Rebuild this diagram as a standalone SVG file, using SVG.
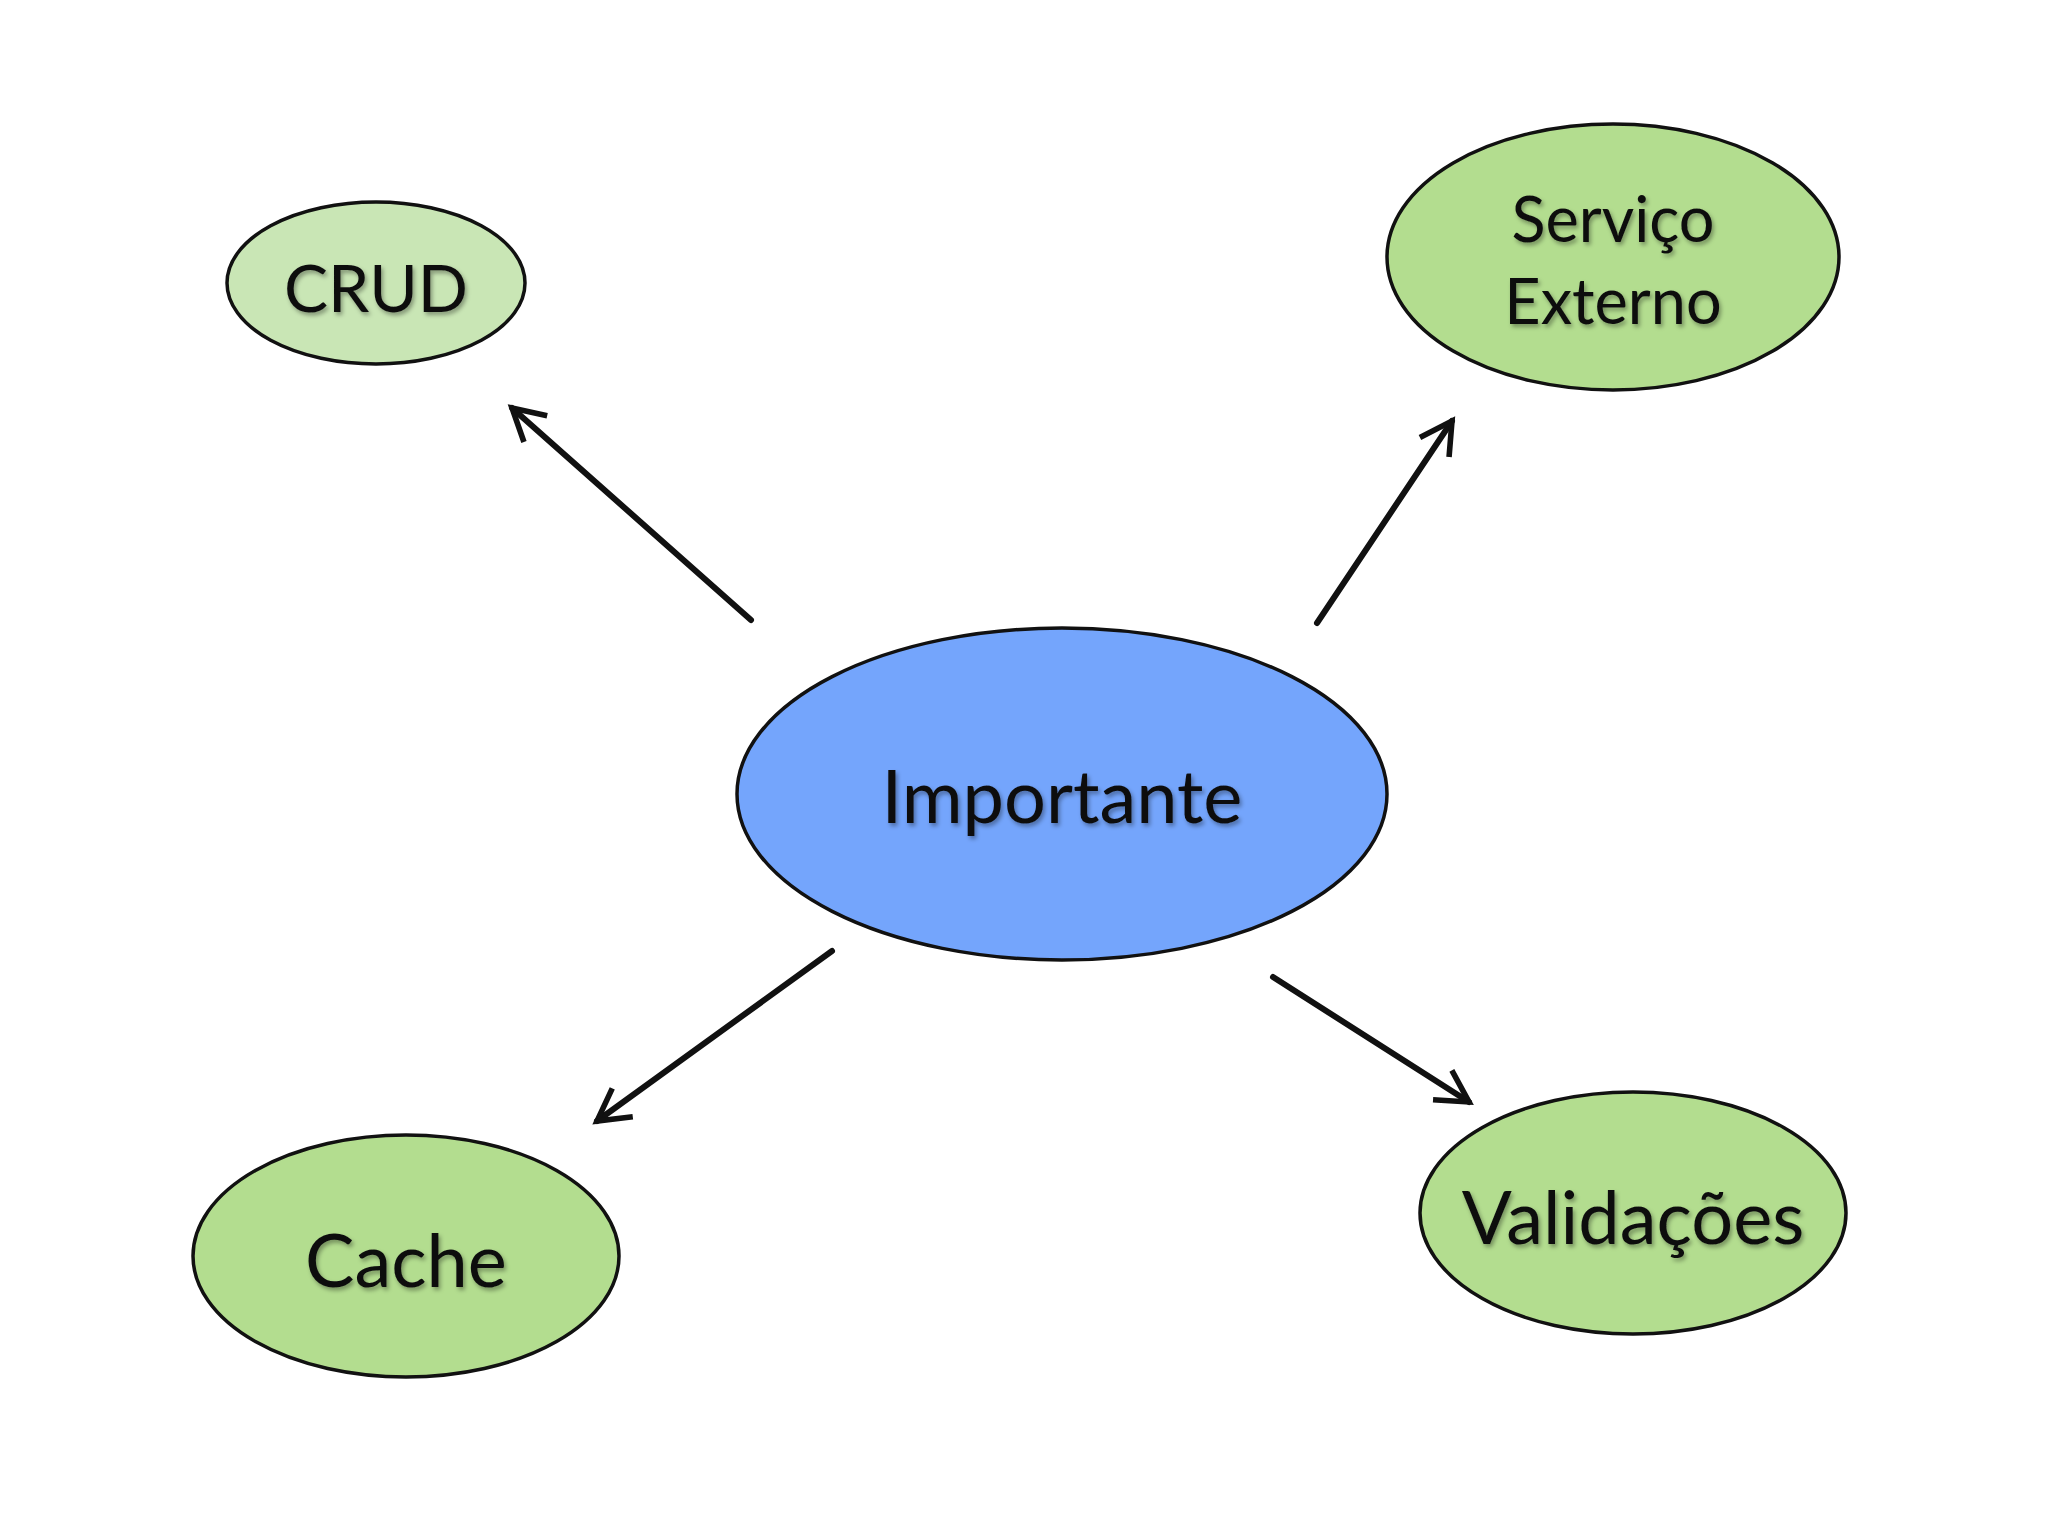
<svg xmlns="http://www.w3.org/2000/svg" width="2048" height="1536" viewBox="0 0 2048 1536">
<style>
.n{stroke:#111;stroke-width:3.5}
.g{fill:#b3dd8f}
.t{font-family:Lato,"Open Sans",sans-serif;fill:#111;text-anchor:middle;dominant-baseline:central;filter:url(#sh)}
.c{stroke:#111;stroke-width:6;fill:none;stroke-linecap:round}
</style>
<defs>
<filter id="sh" x="-10%" y="-20%" width="120%" height="140%"><feDropShadow dx="2" dy="3" stdDeviation="2" flood-color="#000" flood-opacity="0.35"/></filter>
<marker id="a" viewBox="0 0 12 12" refX="10" refY="6" markerWidth="7" markerHeight="7" orient="auto"><path d="M1,1 L10,6 L1,11" fill="none" stroke="#111" stroke-width="1.6"/></marker>
</defs>
<rect width="2048" height="1536" fill="#fff"/>
<g id="connectors">
<line class="c" x1="751" y1="620" x2="512" y2="408" marker-end="url(#a)"/>
<line class="c" x1="1317" y1="623" x2="1452" y2="421" marker-end="url(#a)"/>
<line class="c" x1="832" y1="951" x2="597" y2="1121" marker-end="url(#a)"/>
<line class="c" x1="1273" y1="977" x2="1469" y2="1102" marker-end="url(#a)"/>
</g>
<g id="crud"><ellipse class="n" cx="376" cy="283" rx="149" ry="81" fill="#c9e6b5"/><text class="t" x="376" y="286" font-size="66">CRUD</text></g>
<g id="servico"><ellipse class="n g" cx="1613" cy="257" rx="226" ry="133"/><text class="t" x="1613" y="217" font-size="63">Serviço</text><text class="t" x="1613" y="299" font-size="63">Externo</text></g>
<g id="importante"><ellipse class="n" cx="1062" cy="794" rx="325" ry="166" fill="#74a5fc"/><text class="t" x="1062" y="794" font-size="74">Importante</text></g>
<g id="cache"><ellipse class="n g" cx="406" cy="1256" rx="213" ry="121"/><text class="t" x="406" y="1258" font-size="74">Cache</text></g>
<g id="validacoes"><ellipse class="n g" cx="1633" cy="1213" rx="213" ry="121"/><text class="t" x="1633" y="1215" font-size="74">Validações</text></g>
</svg>
